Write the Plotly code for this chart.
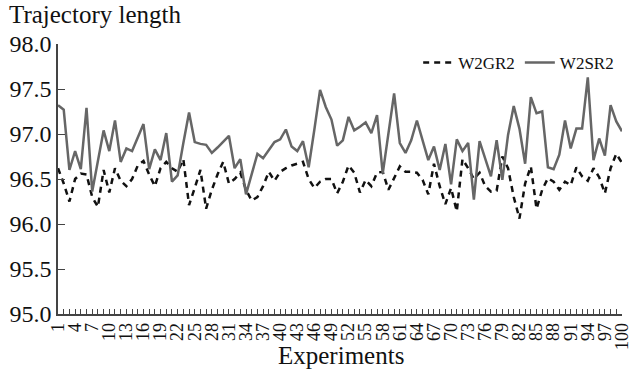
import plotly.graph_objects as go

experiments = list(range(1, 101))

w2sr2 = [97.32, 97.27, 96.60, 96.81, 96.61, 97.29, 96.36, 96.70, 97.04, 96.81,
         97.15, 96.69, 96.84, 96.81, 96.96, 97.11, 96.61, 96.83, 96.71, 97.01,
         96.47, 96.54, 96.90, 97.24, 96.91, 96.89, 96.88, 96.79, 96.85, 96.91,
         96.98, 96.62, 96.72, 96.33, 96.57, 96.78, 96.73, 96.82, 96.91, 96.94,
         97.05, 96.86, 96.81, 96.92, 96.63, 97.05, 97.49, 97.30, 97.16, 96.87,
         96.93, 97.19, 97.04, 97.08, 97.13, 97.01, 97.21, 96.56, 97.00, 97.45,
         96.90, 96.79, 96.93, 97.15, 96.93, 96.71, 96.86, 96.60, 96.89, 96.44,
         96.94, 96.81, 96.90, 96.27, 96.92, 96.73, 96.53, 96.93, 96.49, 96.99,
         97.31, 97.06, 96.67, 97.41, 97.23, 97.25, 96.63, 96.61, 96.77, 97.15,
         96.84, 97.06, 97.06, 97.63, 96.71, 96.95, 96.76, 97.32, 97.14, 97.03]

w2gr2 = [96.62, 96.45, 96.25, 96.50, 96.56, 96.55, 96.30, 96.19, 96.60, 96.35,
         96.62, 96.48, 96.42, 96.50, 96.65, 96.70, 96.55, 96.42, 96.62, 96.69,
         96.62, 96.58, 96.72, 96.21, 96.40, 96.60, 96.17, 96.38, 96.55, 96.69,
         96.45, 96.50, 96.57, 96.38, 96.26, 96.30, 96.42, 96.58, 96.48, 96.58,
         96.62, 96.65, 96.67, 96.69, 96.50, 96.40, 96.47, 96.50, 96.50, 96.34,
         96.47, 96.65, 96.57, 96.35, 96.49, 96.42, 96.57, 96.58, 96.38, 96.51,
         96.64, 96.58, 96.58, 96.57, 96.49, 96.33, 96.67, 96.42, 96.22, 96.40,
         96.14, 96.72, 96.62, 96.50, 96.57, 96.42, 96.36, 96.37, 96.75, 96.62,
         96.30, 96.06, 96.45, 96.64, 96.17, 96.38, 96.51, 96.47, 96.38, 96.47,
         96.43, 96.63, 96.53, 96.48, 96.62, 96.52, 96.34, 96.62, 96.78, 96.68]

x_tick_vals = list(range(1, 101, 3))
x_tick_text = [str(v) for v in x_tick_vals]
y_tick_vals = [95.0, 95.5, 96.0, 96.5, 97.0, 97.5, 98.0]
y_tick_text = ["95.0", "95.5", "96.0", "96.5", "97.0", "97.5", "98.0"]

FONT = "Liberation Serif, Times New Roman, serif"

fig = go.Figure()
fig.add_trace(go.Scatter(
    x=experiments, y=w2gr2, mode="lines", name="W2GR2",
    line=dict(color="#111111", width=2.5, dash="6px,5px"),
))
fig.add_trace(go.Scatter(
    x=experiments, y=w2sr2, mode="lines", name="W2SR2",
    line=dict(color="#666666", width=2.5),
))

fig.update_layout(
    width=641, height=376,
    margin=dict(l=58, r=9, t=44, b=62),
    paper_bgcolor="white", plot_bgcolor="white",
    font=dict(family=FONT, color="#111111"),
    showlegend=True,
    legend=dict(
        orientation="h", x=0.995, xanchor="right", y=0.93, yanchor="middle",
        bgcolor="rgba(0,0,0,0)", font=dict(size=17, family=FONT),
        itemwidth=30, tracegroupgap=0,
    ),
    xaxis=dict(
        range=[0.995, 100.005], showgrid=False, zeroline=False,
        showline=True, linecolor="#444444", linewidth=1.5,
        tickmode="array", tickvals=x_tick_vals, ticktext=x_tick_text,
        tickangle=-90, ticks="inside", ticklen=5, tickcolor="#444444",
        ticklabeloverflow="allow",
        tickfont=dict(size=18, family=FONT, color="#111111"),
        minor=dict(dtick=1, tick0=1, ticks="inside", ticklen=5, tickcolor="#444444", showgrid=False),
    ),
    yaxis=dict(
        range=[95.0, 98.0], showgrid=False, zeroline=False,
        showline=True, linecolor="#444444", linewidth=1.5,
        tickmode="array", tickvals=y_tick_vals, ticktext=y_tick_text,
        ticks="inside", ticklen=7, tickcolor="#444444",
        tickfont=dict(size=24, family=FONT, color="#111111"),
    ),
    annotations=[
        dict(text="Trajectory length", xref="paper", yref="paper",
             x=-0.09, y=1.0, yshift=30, xanchor="left", yanchor="middle",
             showarrow=False, font=dict(size=25, family=FONT, color="#111111")),
        dict(text="Experiments", xref="paper", yref="paper",
             x=0.502, y=0, yshift=-41, xanchor="center", yanchor="middle",
             showarrow=False, font=dict(size=25, family=FONT, color="#111111")),
    ],
)

fig.write_html("out.html")
